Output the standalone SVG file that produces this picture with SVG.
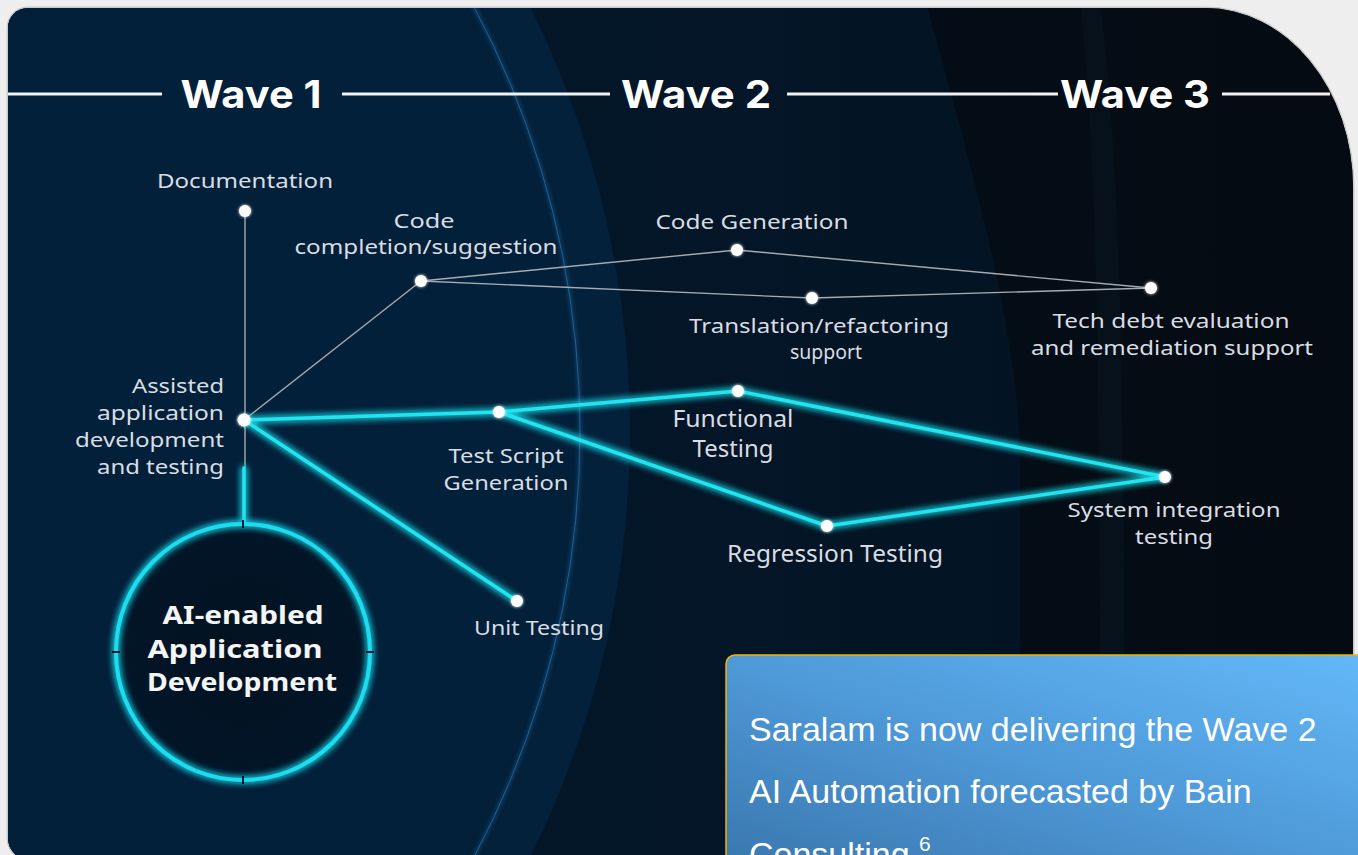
<svg xmlns="http://www.w3.org/2000/svg" width="1358" height="855" viewBox="0 0 1358 855">
  <defs>
    <clipPath id="panelClip">
      <path d="M8,28 A20,20 0 0 1 28,8 H1205 A148,180 0 0 1 1353,188 V860 H30 A22,22 0 0 1 8,838 Z"/>
    </clipPath>
    <linearGradient id="w2" x1="0" y1="0" x2="1" y2="0">
      <stop offset="0" stop-color="#041b30"/>
      <stop offset="1" stop-color="#03111f"/>
    </linearGradient>
    <linearGradient id="w3" x1="0" y1="0" x2="1" y2="0">
      <stop offset="0" stop-color="#040d17"/>
      <stop offset="1" stop-color="#050b12"/>
    </linearGradient>
    <radialGradient id="core" cx="0.5" cy="0.5" r="0.5">
      <stop offset="0" stop-color="#03111f"/>
      <stop offset="1" stop-color="#021629"/>
    </radialGradient>
    <linearGradient id="boxGrad" x1="0" y1="1" x2="1" y2="0">
      <stop offset="0" stop-color="#3a77ae"/>
      <stop offset="0.5" stop-color="#4f9ad9"/>
      <stop offset="1" stop-color="#63b8f7"/>
    </linearGradient>
    <filter id="glow" x="-20%" y="-20%" width="140%" height="140%">
      <feGaussianBlur in="SourceGraphic" stdDeviation="3.5" result="b"/>
      <feMerge>
        <feMergeNode in="b"/>
        <feMergeNode in="b"/>
        <feMergeNode in="SourceGraphic"/>
      </feMerge>
    </filter>
    <filter id="soft" x="-20%" y="-20%" width="140%" height="140%">
      <feGaussianBlur stdDeviation="2"/>
    </filter>
    <filter id="dotGlow" x="-100%" y="-100%" width="300%" height="300%">
      <feGaussianBlur in="SourceGraphic" stdDeviation="1.5" result="b"/>
      <feMerge>
        <feMergeNode in="b"/>
        <feMergeNode in="SourceGraphic"/>
      </feMerge>
    </filter>
  </defs>
  <style>
    .wave { font-family: Inter, "Noto Sans", sans-serif; font-weight: 700; font-size: 38px; fill: #ffffff; text-anchor: middle; }
    .lbl { font-family: "Noto Sans", "Open Sans", sans-serif; font-size: 20px; fill: #d9dde2; text-anchor: middle; }
    .lblR { font-family: "Noto Sans", "Open Sans", sans-serif; font-size: 20px; fill: #d9dde2; text-anchor: end; }
    .lblBig { font-family: "Noto Sans", "Open Sans", sans-serif; font-size: 23px; fill: #d9dde2; text-anchor: middle; }
    .core { font-family: "Noto Sans", "Open Sans", sans-serif; font-weight: 700; font-size: 25px; fill: #f2f4f6; text-anchor: middle; }
    .hdr { stroke: #f2f2f2; stroke-width: 3; }
    .thin { stroke: #a6abb1; stroke-width: 1.4; fill: none; }
    .cyan { stroke: #22e4f1; stroke-width: 3.5; fill: none; stroke-linecap: round; }
    .dot { fill: #ffffff; }
    .callout { font-family: "Liberation Sans", Arial, sans-serif; font-size: 34px; fill: #ffffff; }
  </style>

  <!-- page background -->
  <rect x="0" y="0" width="1358" height="855" fill="#eeeeee"/>
  <path d="M8,28 A20,20 0 0 1 28,8 H1205 A148,180 0 0 1 1353,188 V860 H30 A22,22 0 0 1 8,838 Z" fill="none" stroke="#c9c9c9" stroke-width="3"/>

  <!-- panel background -->
  <g clip-path="url(#panelClip)">
    <rect x="0" y="0" width="1358" height="860" fill="url(#w2)"/>
    <path d="M925,0 C975,180 1015,320 1020,450 L1020,860 L1360,860 L1360,0 Z" fill="url(#w3)"/>
    <path d="M1080,0 C1095,150 1100,300 1100,860 L1125,860 C1125,300 1118,150 1100,0 Z" fill="#071522" opacity="0.5"/>
    <circle cx="-325" cy="432" r="955" fill="#04213b"/>
    <circle cx="-325" cy="432" r="905" fill="#03203a"/>
    <circle cx="-325" cy="432" r="905" fill="none" stroke="#1d5d92" stroke-width="2.5" opacity="0.7" filter="url(#soft)"/>
    <circle cx="-325" cy="432" r="905" fill="none" stroke="#245f93" stroke-width="1"/>
  </g>

  <!-- header -->
  <g id="header">
    <line class="hdr" x1="8" y1="94" x2="162" y2="94"/>
    <line class="hdr" x1="342" y1="94" x2="610" y2="94"/>
    <line class="hdr" x1="787" y1="94" x2="1058" y2="94"/>
    <line class="hdr" x1="1222" y1="94" x2="1330" y2="94"/>
    <text class="wave" x="251" y="108" textLength="141" lengthAdjust="spacingAndGlyphs">Wave 1</text>
    <text class="wave" x="696" y="108" textLength="150" lengthAdjust="spacingAndGlyphs">Wave 2</text>
    <text class="wave" x="1135" y="108" textLength="150" lengthAdjust="spacingAndGlyphs">Wave 3</text>
  </g>

  <!-- connectors -->
  <g id="connectors">
    <line class="thin" x1="245" y1="211" x2="245" y2="468"/>
    <line class="thin" x1="244" y1="420" x2="421" y2="281"/>
    <line class="thin" x1="421" y1="281" x2="737" y2="250"/>
    <line class="thin" x1="421" y1="281" x2="812" y2="298"/>
    <line class="thin" x1="737" y1="250" x2="1151" y2="288"/>
    <line class="thin" x1="812" y1="298" x2="1151" y2="288"/>
    <g filter="url(#glow)">
      <line class="cyan" x1="244" y1="468" x2="244" y2="522"/>
      <line class="cyan" x1="244" y1="420" x2="499" y2="412"/>
      <line class="cyan" x1="244" y1="420" x2="517" y2="601"/>
      <line class="cyan" x1="499" y1="412" x2="738" y2="391"/>
      <line class="cyan" x1="499" y1="412" x2="827" y2="526"/>
      <line class="cyan" x1="738" y1="391" x2="1165" y2="477"/>
      <line class="cyan" x1="827" y1="526" x2="1165" y2="477"/>
    </g>
  </g>

  <!-- core node -->
  <g id="node-core">
    <ellipse cx="243" cy="652" rx="127" ry="128" fill="url(#core)"/>
    <ellipse cx="243" cy="652" rx="127" ry="128" fill="none" stroke="#1fdcf0" stroke-width="4" filter="url(#glow)"/>
    <g stroke="#04182b" stroke-width="2">
      <line x1="243" y1="520" x2="243" y2="528"/>
      <line x1="243" y1="776" x2="243" y2="784"/>
      <line x1="112" y1="652" x2="120" y2="652"/>
      <line x1="366" y1="652" x2="374" y2="652"/>
    </g>
    <text class="core" x="243" y="624" textLength="161" lengthAdjust="spacingAndGlyphs">AI-enabled</text>
    <text class="core" x="235" y="658" textLength="175" lengthAdjust="spacingAndGlyphs">Application</text>
    <text class="core" x="242" y="691" textLength="190" lengthAdjust="spacingAndGlyphs">Development</text>
  </g>

  <g id="node-documentation">
    <circle class="dot" cx="245" cy="211" r="6" filter="url(#dotGlow)"/>
    <text class="lbl" x="245" y="188" textLength="176" lengthAdjust="spacingAndGlyphs">Documentation</text>
  </g>
  <g id="node-assisted">
    <circle class="dot" cx="244" cy="420" r="6.5" filter="url(#dotGlow)"/>
    <text class="lblR" x="224" y="393" textLength="92" lengthAdjust="spacingAndGlyphs">Assisted</text>
    <text class="lblR" x="224" y="420" textLength="127" lengthAdjust="spacingAndGlyphs">application</text>
    <text class="lblR" x="224" y="447" textLength="149" lengthAdjust="spacingAndGlyphs">development</text>
    <text class="lblR" x="224" y="474" textLength="127" lengthAdjust="spacingAndGlyphs">and testing</text>
  </g>
  <g id="node-code-completion">
    <circle class="dot" cx="421" cy="281" r="6" filter="url(#dotGlow)"/>
    <text class="lbl" x="424" y="228" textLength="61" lengthAdjust="spacingAndGlyphs">Code</text>
    <text class="lbl" x="426" y="254" textLength="263" lengthAdjust="spacingAndGlyphs">completion/suggestion</text>
  </g>
  <g id="node-code-generation">
    <circle class="dot" cx="737" cy="250" r="6" filter="url(#dotGlow)"/>
    <text class="lbl" x="752" y="229" textLength="193" lengthAdjust="spacingAndGlyphs">Code Generation</text>
  </g>
  <g id="node-translation">
    <circle class="dot" cx="812" cy="298" r="6" filter="url(#dotGlow)"/>
    <text class="lbl" x="819" y="333" textLength="260" lengthAdjust="spacingAndGlyphs">Translation/refactoring</text>
    <text class="lbl" x="826" y="359" textLength="72" lengthAdjust="spacingAndGlyphs">support</text>
  </g>
  <g id="node-tech-debt">
    <circle class="dot" cx="1151" cy="288" r="6" filter="url(#dotGlow)"/>
    <text class="lbl" x="1171" y="328" textLength="237" lengthAdjust="spacingAndGlyphs">Tech debt evaluation</text>
    <text class="lbl" x="1172" y="355" textLength="282" lengthAdjust="spacingAndGlyphs">and remediation support</text>
  </g>
  <g id="node-test-script">
    <circle class="dot" cx="499" cy="412" r="6" filter="url(#dotGlow)"/>
    <text class="lbl" x="506" y="463" textLength="115" lengthAdjust="spacingAndGlyphs">Test Script</text>
    <text class="lbl" x="506" y="490" textLength="125" lengthAdjust="spacingAndGlyphs">Generation</text>
  </g>
  <g id="node-unit-testing">
    <circle class="dot" cx="517" cy="601" r="6" filter="url(#dotGlow)"/>
    <text class="lbl" x="539" y="635" textLength="130" lengthAdjust="spacingAndGlyphs">Unit Testing</text>
  </g>
  <g id="node-functional">
    <circle class="dot" cx="738" cy="391" r="6" filter="url(#dotGlow)"/>
    <text class="lblBig" x="733" y="427" textLength="121" lengthAdjust="spacingAndGlyphs">Functional</text>
    <text class="lblBig" x="733" y="457" textLength="81" lengthAdjust="spacingAndGlyphs">Testing</text>
  </g>
  <g id="node-regression">
    <circle class="dot" cx="827" cy="526" r="6" filter="url(#dotGlow)"/>
    <text class="lblBig" x="835" y="562" textLength="216" lengthAdjust="spacingAndGlyphs">Regression Testing</text>
  </g>
  <g id="node-system">
    <circle class="dot" cx="1165" cy="477" r="6" filter="url(#dotGlow)"/>
    <text class="lbl" x="1174" y="517" textLength="213" lengthAdjust="spacingAndGlyphs">System integration</text>
    <text class="lbl" x="1174" y="544" textLength="78" lengthAdjust="spacingAndGlyphs">testing</text>
  </g>

  <!-- callout -->
  <g id="callout">
    <path d="M726,864 V664 A9,9 0 0 1 735,655 H1362 V864 Z" fill="url(#boxGrad)" stroke="#f1b400" stroke-width="1.5"/>
    <text class="callout" x="749" y="741">Saralam is now delivering the Wave 2</text>
    <text class="callout" x="749" y="803">AI Automation forecasted by Bain</text>
    <text class="callout" x="749" y="866">Consulting <tspan font-size="21" dy="-15">6</tspan></text>
  </g>
</svg>
